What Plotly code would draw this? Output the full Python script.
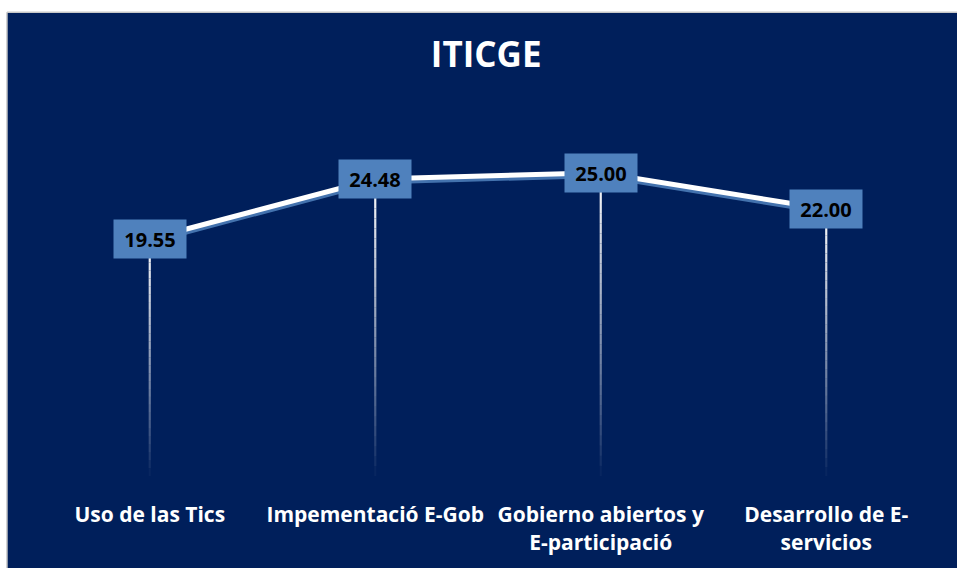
import plotly.graph_objects as go

title = "ITICGE"
categories = ["Uso de las Tics", "Impementació E-Gob", "Gobierno abiertos y<br>E-participació", "Desarrollo de E-<br>servicios"]
values = [19.55, 24.48, 25.00, 22.00]
value_labels = ["19.55", "24.48", "25.00", "22.00"]

NAVY = "#001F5B"
BOX = "#4F81BD"
FONT = "Open Sans"

xs = list(range(len(categories)))
fig = go.Figure()

# fading drop lines from each point down to zero
n_seg = 30
for x, v in zip(xs, values):
    for i in range(n_seg):
        y_top = v * (1 - i / n_seg)
        y_bot = v * (1 - (i + 1) / n_seg)
        op = max(0.0, 1 - (i + 0.5) / n_seg) ** 0.85
        fig.add_trace(go.Scatter(x=[x, x], y=[y_top, y_bot], mode="lines",
                                 line=dict(color=f"rgba(255,255,255,{op:.3f})", width=2.2),
                                 hoverinfo="skip", showlegend=False))

# shadow of the main line
fig.add_trace(go.Scatter(x=xs, y=[v - 0.24 for v in values], mode="lines",
                         line=dict(color="rgba(79,129,189,0.85)", width=5),
                         hoverinfo="skip", showlegend=False))
# main line
fig.add_trace(go.Scatter(x=xs, y=values, mode="lines",
                         line=dict(color="white", width=5),
                         showlegend=False))

for x, v, lab in zip(xs, values, value_labels):
    fig.add_annotation(x=x, y=v, text=f"<b>{lab}</b>", showarrow=False,
                       font=dict(family=FONT, size=20, color="black"),
                       bgcolor=BOX, borderpad=6, width=60, height=26,
                       xanchor="center", yanchor="middle")

# white margin strips around the chart frame (top / left)
fig.add_shape(type="rect", xref="paper", yref="paper", x0=-0.06, x1=1.05, y0=1.2737, y1=1.35,
              fillcolor="white", line_width=0, layer="below")
fig.add_shape(type="rect", xref="paper", yref="paper", x0=-0.06, x1=-0.0333, y0=-0.3, y1=1.35,
              fillcolor="white", line_width=0, layer="below")
fig.add_shape(type="line", xref="paper", yref="paper", x0=-0.0333, x1=1.05, y0=1.2737, y1=1.2737,
              line=dict(color="#C8C8C8", width=1.5))
fig.add_shape(type="line", xref="paper", yref="paper", x0=-0.0333, x1=-0.0333, y0=-0.3, y1=1.2737,
              line=dict(color="#C8C8C8", width=1.5))

fig.update_layout(
    width=957, height=568,
    margin=dict(l=37, r=18, t=112, b=87),
    paper_bgcolor=NAVY, plot_bgcolor=NAVY,
    title=dict(text=f"<b>{title}</b>", x=0.508, xanchor="center", y=0.903, yanchor="middle",
               font=dict(family=FONT, size=35, color="white")),
    xaxis=dict(tickvals=xs, ticktext=[f"<b>{c}</b>" for c in categories],
               range=[-0.5, 3.5], showgrid=False, zeroline=False, showline=False,
               ticks="outside", ticklen=20, tickcolor="rgba(0,0,0,0)",
               tickfont=dict(family=FONT, size=21, color="white")),
    yaxis=dict(range=[0, 30], showgrid=False, zeroline=False, showline=False,
               showticklabels=False),
)

fig.write_html("out.html", config={"displayModeBar": False},
               post_script="document.body.style.margin='0';document.body.style.overflow='hidden';")
